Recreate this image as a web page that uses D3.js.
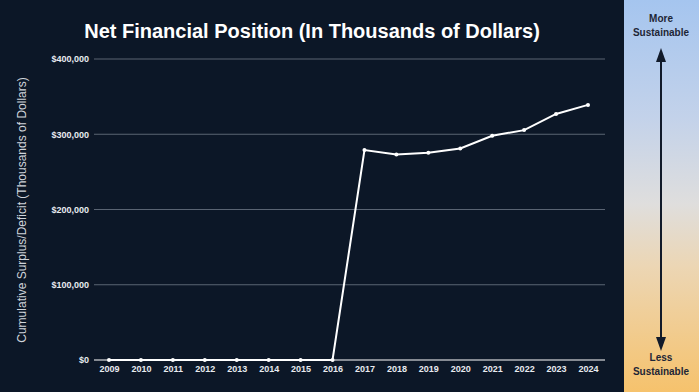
<!DOCTYPE html>
<html><head><meta charset="utf-8">
<script src="https://cdn.jsdelivr.net/npm/d3@7"></script>
<style>
html,body{margin:0;padding:0;background:#0c1727;}
svg{display:block;}
</style></head>
<body>
<script>
const years = ["2009","2010","2011","2012","2013","2014","2015","2016","2017","2018","2019","2020","2021","2022","2023","2024"];
const values = [0,0,0,0,0,0,0,0,279000,273000,275500,281000,298000,305500,327000,339000];
const yTicks = [0,100000,200000,300000,400000];
const titleText = "Net Financial Position (In Thousands of Dollars)";
const yLabel = "Cumulative Surplus/Deficit (Thousands of Dollars)";

const W = 699, H = 392;
const svg = d3.select("body").append("svg").attr("width", W).attr("height", H);

svg.append("rect").attr("width", W).attr("height", H).attr("fill", "#0c1727");

// right gradient panel
const defs = svg.append("defs");
const grad = defs.append("linearGradient").attr("id","g").attr("x1",0).attr("y1",0).attr("x2",0).attr("y2",1);
grad.append("stop").attr("offset","0%").attr("stop-color","#a5c5ef");
grad.append("stop").attr("offset","30%").attr("stop-color","#c3d2ea");
grad.append("stop").attr("offset","52%").attr("stop-color","#dfdedd");
grad.append("stop").attr("offset","68%").attr("stop-color","#ecd6b4");
grad.append("stop").attr("offset","100%").attr("stop-color","#f6c26c");
svg.append("rect").attr("x",624).attr("y",0).attr("width",W-624).attr("height",H).attr("fill","url(#g)");

const arrowCol = "#111a2a";
svg.append("line").attr("x1",661).attr("x2",661).attr("y1",58).attr("y2",342)
  .attr("stroke",arrowCol).attr("stroke-width",2);
svg.append("path").attr("d","M661,48 L666,62 L656,62 Z").attr("fill",arrowCol);
svg.append("path").attr("d","M661,351 L666,337 L656,337 Z").attr("fill",arrowCol);

const sideFont = "Arial, 'Liberation Sans', sans-serif";
[["More",22],["Sustainable",36],["Less",361],["Sustainable",375]].forEach(([t,yy])=>{
  svg.append("text").attr("x",661).attr("y",yy).attr("text-anchor","middle")
    .attr("font-family",sideFont).attr("font-weight","bold").attr("font-size",10)
    .attr("fill","#1e2636").text(t);
});

const x = d3.scalePoint().domain(years).range([109,588]);
const y = d3.scaleLinear().domain([0,400000]).range([360,59]);

// gridlines
svg.append("g").selectAll("line").data(yTicks.filter(d=>d>0)).join("line")
  .attr("x1",94).attr("x2",605).attr("y1",d=>y(d)).attr("y2",d=>y(d))
  .attr("stroke","#6f7886").attr("stroke-width",0.8);

// y axis
const yAxis = svg.append("g").attr("transform","translate(94,0)")
  .call(d3.axisLeft(y).tickValues(yTicks).tickSize(0).tickPadding(5).tickFormat(d=>"$"+d3.format(",")(d)));
yAxis.select(".domain").remove();
yAxis.selectAll("text").attr("fill","#e8ebf0").attr("font-family",sideFont).attr("font-weight","bold").attr("font-size",9);

// x axis
const xAxis = svg.append("g").attr("transform","translate(0,360)")
  .call(d3.axisBottom(x).tickSize(0).tickPadding(6));
xAxis.select(".domain").attr("d","M94,0H605").attr("stroke","#ffffff").attr("stroke-width",1.2);
xAxis.selectAll("text").attr("fill","#e8ebf0").attr("font-family",sideFont).attr("font-weight","bold").attr("font-size",9);

// line
const line = d3.line().x((d,i)=>x(years[i])).y(d=>y(d));
svg.append("path").datum(values).attr("d",line).attr("fill","none").attr("stroke","#ffffff").attr("stroke-width",2);
svg.append("g").selectAll("circle").data(values).join("circle")
  .attr("cx",(d,i)=>x(years[i])).attr("cy",d=>y(d)).attr("r",2).attr("fill","#ffffff");

// title
svg.append("text").attr("x",312).attr("y",38).attr("text-anchor","middle")
  .attr("font-family",sideFont).attr("font-weight","bold").attr("font-size",20)
  .attr("fill","#ffffff").text(titleText);

// y label
svg.append("text").attr("transform","translate(26,210) rotate(-90)").attr("text-anchor","middle")
  .attr("font-family",sideFont).attr("font-size",12).attr("fill","#d0d4db").text(yLabel);
</script>
</body></html>
